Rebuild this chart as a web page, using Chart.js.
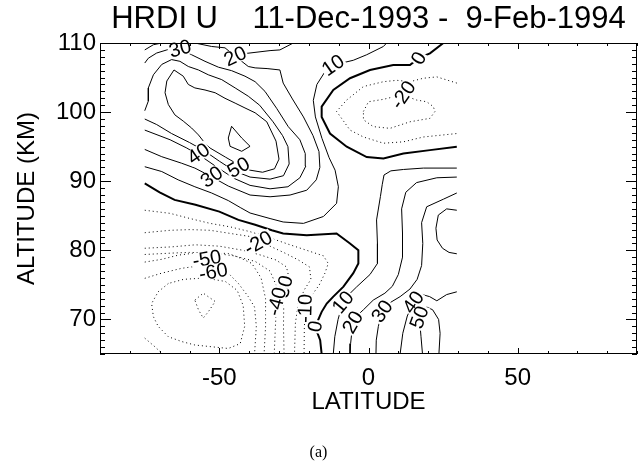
<!DOCTYPE html>
<html><head><meta charset="utf-8">
<script src="https://cdn.jsdelivr.net/npm/chart.js@4.4.1/dist/chart.umd.min.js"></script>
<style>html,body{margin:0;padding:0;background:#fff}#w{width:641px;height:470px}</style>
</head><body><div id="w"><canvas id="c" width="641" height="470"></canvas></div>
<script>
// ---- tick labels ----
const latTicks = [-50, 0, 50];
const altTicks = [70, 80, 90, 100, 110];

// ---- contour lines, [latitude, altitude km] ----
const c0_sw = [[-75,89.7],[-70,88.4],[-65,87.3],[-58,86.6],[-50,85.6],[-43.6,84.4],[-38,83.7],[-32.4,82.9],[-28.6,82.45],[-20.7,82.2],[-10.7,82.45],[-6.2,81.0],[-3.4,80.0],[-3.4,78.1],[-5.1,76.7],[-8.4,74.75],[-11.8,73.3],[-14,72.3],[-15.7,71.1],[-17,69.8],[-17.5,68.5],[-16.2,67],[-15.7,65]];
const c0_ne = [[25.1,110],[20.6,108.5],[16.8,107.8],[13.9,106.8],[8.3,106.8],[0.5,106.1],[-6.2,104.9],[-11.8,103.2],[-15.7,100.8],[-15.7,99.3],[-12.9,96.9],[-7.3,95.0],[-0.6,93.5],[5.0,93.3],[11.7,94.0],[20.6,94.5],[29.6,95.0]];
const cm10_ne = [[29.6,104.2],[22.9,105.1],[18.4,104.9],[13.9,104.4],[9.5,104.6],[5.0,104.4],[-1.7,103.7],[-7.3,101.75],[-10.7,100.1],[-6.2,97.4],[-1.7,96.4],[5.0,95.5],[11.7,95.7],[18.4,96.4],[25.1,96.7],[29.6,96.9]];
const cm20_ne = [[-1.7,100.1],[0,101.5],[5,101.85],[8.3,102.2],[12,102.4],[16.1,101.75],[19.5,101.5],[21.7,100.8],[22.3,100.1],[20.6,99.1],[13.9,98.6],[7.2,97.65],[1.6,97.9],[-1.7,98.9],[-1.7,100.1]];
const cm10_sw = [[-75,85.8],[-66.5,85.35],[-59.8,84.6],[-53.1,83.9],[-46.4,83.4],[-39.7,82.7],[-33,81.8],[-26.3,80.8],[-20.7,80.0],[-15.1,79.2],[-13.5,78.1],[-14.6,76.7],[-16.5,75],[-19,73.5],[-21,71.5],[-21.5,69],[-21.6,65]];
const cm20_sw = [[-75,82.55],[-66.5,82.9],[-59.8,83.0],[-53.1,82.9],[-46.4,82.45],[-39.7,82.0],[-37.5,81.4],[-33,80.6],[-28,79.6],[-23.5,78.6],[-19.8,77.6],[-19.3,75.8],[-21.5,74.3],[-23.5,72.3],[-24.5,69.5],[-24.8,65]];
const cm30_sw = [[-75,80.3],[-66,80.5],[-58,80.8],[-50,80.6],[-42,80.0],[-36,79.3],[-31,78.6],[-27.5,77.6],[-26.8,76.3],[-27.6,74.8],[-28.4,72.5],[-28.5,69],[-28.3,65]];
const cm40_sw = [[-75,79.4],[-66,79.6],[-60,79.7],[-52,79.6],[-45,79.2],[-38,78.4],[-33,77],[-31,75],[-30.8,72.6],[-31.2,69],[-31.6,65]];
const cm50_sw = [[-75,78.3],[-69.3,78.7],[-63.8,79.3],[-59.3,79.55],[-54.2,79.6],[-47,79.55],[-42.5,78.8],[-39.1,78.1],[-36,76],[-34.5,73],[-34.5,69],[-35,65]];
const cm60_sw = [[-75,75.95],[-69.3,76.7],[-62.6,77.4],[-59.3,77.6],[-52,77.3],[-47,76.7],[-43.6,75.2],[-40.3,73.3],[-38.2,71.8],[-37.6,69],[-38.2,65]];
const cm60_corner = [[-75,67.3],[-71.6,66.05],[-69.3,65.1]];
const cm70_sw = [[-67.1,75.2],[-70.5,74.0],[-72.7,72.3],[-72.1,70.4],[-70.5,69.0],[-67.1,67.5],[-62.6,66.8],[-58.2,66.3],[-52.6,66.05],[-47,65.8],[-43,66.5],[-41.5,69],[-42,72],[-44,74.2],[-48,75.5],[-55,76.0],[-62,75.8],[-67.1,75.2]];
const cm80_sw = [[-58.2,72.8],[-55.4,73.8],[-51.4,72.6],[-53.7,71.1],[-55.4,70.2],[-57.0,71.4],[-58.2,72.8]];
// positive: jet side
const c10_w = [[-75,92.1],[-69.3,91.4],[-63.8,90.2],[-58.2,89.2],[-52.6,88.3],[-47,87.2],[-43,86.2],[-39.7,85.4],[-33,84.6],[-28.6,84.1],[-21.8,83.9],[-15.1,84.9],[-10.7,86.8],[-10.1,89.2],[-11.2,91.6],[-13.2,93.4],[-15.6,96.2],[-17.8,99.3],[-18.5,101.7],[-17.3,104],[-14.5,105.9],[-11.9,106.8],[-5.1,107.5],[-0.6,108.3],[5.0,109.5],[6.1,110]];
const c20_w = [[-75,94.6],[-69.3,93.55],[-62.6,92.6],[-58.2,91.9],[-52.6,90.65],[-47,89.3],[-39.7,88.0],[-33,87.75],[-26.3,88.0],[-20.7,88.7],[-17.5,90.2],[-16.3,92],[-16.6,94.3],[-18.6,96.6],[-21.8,99.3],[-25.5,101.9],[-28.6,104.2],[-29.7,106.1],[-34,106.3],[-38,106.4],[-40.3,106.6],[-44.7,108.1],[-48.1,109.3],[-52.6,109.5],[-58.2,110]];
const c20_top = [[-25.2,110],[-29.7,109.0],[-33,108.9],[-40.8,108.5],[-43,108.3]];
const c30_w = [[-75,97.4],[-66.5,96.0],[-60.9,94.8],[-55.4,93.4],[-50,91.8],[-45,90.4],[-39.7,89.4],[-33,88.9],[-27,89.2],[-23,90.5],[-21.0,92.2],[-21.2,94],[-23,96.0],[-26.9,97.9],[-30.8,100.55],[-34.7,103.0],[-38,104.4],[-41.4,105.2],[-45.9,106.0],[-50.3,106.5],[-54.8,107.35],[-59.3,108.3],[-63.2,109.2],[-64.9,109.4],[-67.6,109.0],[-71,108.55],[-73.8,107.8],[-75,107.1]];
const c40_w = [[-75,99.0],[-71,98.2],[-66,96.9],[-60,95.6],[-55,94.4],[-50,92.9],[-45,91.5],[-39.7,90.6],[-33,90.3],[-28.5,90.8],[-26.6,92.5],[-27,95],[-28.8,96.6],[-32,98.6],[-36.5,101.0],[-40.3,102.3],[-44.7,103.5],[-49.2,104.7],[-53.7,105.4],[-57,106.1],[-60.4,106.6],[-63.2,107.35],[-66,107.6],[-69.3,106.9],[-72.1,105.4],[-73.8,103.5],[-73.8,101.6],[-75,100.2]];
const c50_w = [[-65.2,106.1],[-67.6,104.5],[-68.2,102.8],[-67.1,101.1],[-64.9,99.6],[-62.1,98.7],[-59.3,97.7],[-57.0,96.7],[-54.8,95.5],[-53.1,94.8],[-48,93.5],[-43.6,92.4],[-39.7,91.6],[-35.5,91.3],[-31.5,91.8],[-30,93.2],[-31,95.8],[-34.1,98.6],[-38,99.9],[-41.4,100.6],[-44.7,101.3],[-48.1,102.0],[-51.4,102.8],[-54.8,103.2],[-58.2,103.5],[-60.4,104.0],[-62.1,105.2],[-65.2,106.1]];
const c60_w = [[-45.9,97.95],[-47.0,96.25],[-46.4,95.05],[-42.5,94.33],[-39.7,95.05],[-42.5,96.25],[-45.9,97.95]];
const c20_corner = [[-75,109],[-72.1,109.75],[-69.3,110]];
// positive: tropical side
const c10_e = [[29.6,91.9],[18.4,91.9],[11.7,91.7],[7.5,91.5],[5.2,90.9],[4.6,89.5],[4.0,87.8],[2.7,84.4],[3.0,81.0],[3.0,78.1],[0.5,76.5],[-4.0,74.7],[-7.3,73.3],[-8.6,72.5],[-10.2,70],[-11.3,67.5],[-11.8,65]];
const c20_e = [[29.6,90.6],[22.9,90.5],[16.1,89.8],[12.5,88.4],[11.1,86.0],[11.4,82.5],[11.4,79.0],[10.0,76.5],[8.0,74.8],[5.5,73.8],[1.6,72.8],[-1.7,71.4],[-4.2,70.4],[-5.5,68.5],[-6.0,66.5],[-6.2,65]];
const c30_e = [[29.6,88.3],[25.1,87.4],[19.5,86.3],[17.8,84.0],[18.2,81.0],[17.8,77.8],[16.3,75.8],[13.9,74.4],[10.6,73.3],[7.5,72.5],[4.8,71.4],[3.3,69],[2.6,67],[2.5,65]];
const c40_e = [[29.6,85.8],[26.2,86.0],[23.4,85.1],[22.6,83.2],[23.0,81.5],[24.8,80.3],[27,79.7],[29.6,79.5]];
const c40_low = [[10.6,65],[11.5,68],[13,70.5],[15,72.4],[18,73.6],[20.5,73.3],[22.9,72.7],[26.2,73.6],[29.6,74.0]];
const c50_low = [[18.1,65],[17.6,67.5],[17.2,69.5],[17.8,71],[19.5,71.8],[21.5,71.4],[23.5,70],[24,68],[23.6,65]];

// contour labels: text, latitude, altitude
const labelText = ['30','20','10','0','-20','40','50','30','-20','-50','-60','-30','-40','-10','0','10','20','30','40','50'];
const labelLat  = [-63.2,-44.7,-11.9,16.8,11.6,-57.0,-43.6,-52.6,-37.0,-54.2,-52.0,-28.6,-30.8,-21.3,-17.9,-8.6,-5.3,4.5,15.0,17.0];
const labelAlt  = [109.2,108.1,106.8,107.8,102.5,94.0,92.0,90.65,81.1,78.8,76.9,74.3,72.6,71.6,69.0,72.5,69.6,71.2,72.5,70.3];

const contourTable = [
  [0,c0_sw],[0,c0_ne],[-10,cm10_ne],[-20,cm20_ne],[-10,cm10_sw],[-20,cm20_sw],[-30,cm30_sw],[-40,cm40_sw],
  [-50,cm50_sw],[-60,cm60_sw],[-60,cm60_corner],[-70,cm70_sw],[-80,cm80_sw],
  [10,c10_w],[20,c20_w],[20,c20_top],[30,c30_w],[40,c40_w],[50,c50_w],[60,c60_w],[20,c20_corner],
  [10,c10_e],[20,c20_e],[30,c30_e],[40,c40_e],[40,c40_low],[50,c50_low]
];
const labelAngle = [-15,-25,-35,-60,-55,-35,-30,-35,-30,-10,-10,-75,-75,-88,-80,-50,-60,-55,-55,-70];

const datasets = contourTable.map(([lev, pts]) => ({
  data: pts.map(p => ({x: p[0], y: p[1]})),
  showLine: true, fill: false, tension: 0, pointRadius: 0,
  borderColor: '#000',
  borderWidth: lev === 0 ? 2 : 1,
  borderDash: lev < 0 ? [1, 3] : []
}));

const idlAxes = {
  id: 'idlAxes',
  afterDatasetsDraw(chart) {
    const {ctx, chartArea: a, scales: {x, y}} = chart;
    ctx.save();
    ctx.font = '20px "Liberation Sans", Arial, sans-serif';
    ctx.textAlign = 'center'; ctx.textBaseline = 'middle';
    labelText.forEach((t, i) => {
      const px = x.getPixelForValue(labelLat[i]), py = y.getPixelForValue(labelAlt[i]);
      ctx.save(); ctx.translate(px, py); ctx.rotate(labelAngle[i] * Math.PI / 180);
      const w = ctx.measureText(t).width;
      ctx.fillStyle = '#fff'; ctx.fillRect(-w/2 - 1, -7.5, w + 2, 15);
      ctx.fillStyle = '#000'; ctx.fillText(t, 0, 1);
      ctx.restore();
    });
    ctx.strokeStyle = '#000'; ctx.lineWidth = 1;
    ctx.strokeRect(a.left + 0.5, a.top + 0.5, a.right - a.left - 1, a.bottom - a.top - 1);
    ctx.beginPath();
    for (let v = -90; v <= 90; v += 10) {
      const px = Math.round(x.getPixelForValue(v)) + 0.5;
      const len = latTicks.includes(v) ? 6 : 3;
      ctx.moveTo(px, a.bottom); ctx.lineTo(px, a.bottom - len);
      ctx.moveTo(px, a.top); ctx.lineTo(px, a.top + len);
    }
    for (let v = 65; v <= 110; v += 1) {
      const py = Math.round(y.getPixelForValue(v)) + 0.5;
      const len = altTicks.includes(v) ? 11 : 5;
      ctx.moveTo(a.left, py); ctx.lineTo(a.left + len, py);
      ctx.moveTo(a.right, py); ctx.lineTo(a.right - len, py);
    }
    ctx.stroke();
    ctx.restore();
  }
};

const font = '"Liberation Sans", Arial, Helvetica, sans-serif';
new Chart(document.getElementById('c'), {
  type: 'scatter',
  data: { datasets },
  options: {
    responsive: false, animation: false, devicePixelRatio: 1,
    layout: { padding: { left: 0, right: 4, top: 0, bottom: 0 } },
    plugins: {
      legend: { display: false }, tooltip: { enabled: false },
      title: { display: true, fullSize: false, text: 'HRDI U    11-Dec-1993 -  9-Feb-1994',
        color: '#000', font: { family: font, size: 31, weight: 'normal', lineHeight: 1.2 },
        padding: { top: 1, bottom: 4.8 } },
      subtitle: { display: true, position: 'bottom', text: '(a)', color: '#000',
        font: { family: '"Liberation Serif", "Times New Roman", serif', size: 16, weight: 'normal', lineHeight: 1.2 },
        padding: { top: 0, bottom: 8 } }
    },
    scales: {
      x: {
        type: 'linear', min: -90, max: 90,
        afterBuildTicks: s => { s.ticks = latTicks.map(v => ({ value: v })); },
        afterFit: s => { s.height = 88.8; },
        grid: { display: false, drawTicks: false }, border: { display: false },
        ticks: { color: '#000', font: { family: font, size: 24 }, padding: 9.6, maxRotation: 0 },
        title: { display: true, text: 'LATITUDE', color: '#000', font: { family: font, size: 24 }, padding: { top: 0, bottom: 26 } }
      },
      y: {
        type: 'linear', min: 65, max: 110,
        afterBuildTicks: s => { s.ticks = altTicks.map(v => ({ value: v })); },
        afterFit: s => { s.width = 100; },
        grid: { display: false, drawTicks: false }, border: { display: false },
        ticks: { color: '#000', font: { family: font, size: 24 }, padding: 4 },
        title: { display: true, text: 'ALTITUDE (KM)', color: '#000', font: { family: font, size: 24 }, padding: { top: 12.6, bottom: 0 } }
      }
    }
  },
  plugins: [idlAxes]
});
</script>
</body></html>
